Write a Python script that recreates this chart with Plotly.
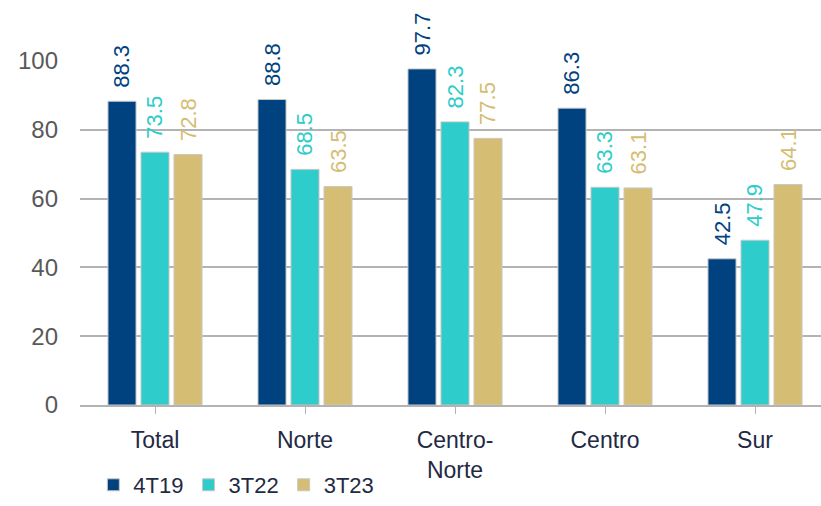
import plotly.graph_objects as go

# Regional values by period
regions = ["Total", "Norte", "Centro-<br>Norte", "Centro", "Sur"]
v_4t19 = [88.3, 88.8, 97.7, 86.3, 42.5]
v_3t22 = [73.5, 68.5, 82.3, 63.3, 47.9]
v_3t23 = [72.8, 63.5, 77.5, 63.1, 64.1]
y_ticks = [0, 20, 40, 60, 80, 100]

series = [
    ("4T19", v_4t19, "#00427F"),
    ("3T22", v_3t22, "#2ECCCA"),
    ("3T23", v_3t23, "#D5BD73"),
]

BARGAP = 0.34
GROUPGAP = 0.15
slot = (1 - BARGAP) / len(series)

fig = go.Figure()
annotations = []
for k, (name, vals, col) in enumerate(series):
    fig.add_trace(go.Bar(
        x=list(range(len(regions))),
        y=vals,
        name=name,
        marker=dict(color=col, line=dict(color="#c8c8c8", width=1)),
    ))
    # value labels sit above each bar, rotated, in the bar's colour
    offset = (k - (len(series) - 1) / 2) * slot
    for i, v in enumerate(vals):
        annotations.append(dict(
            x=i + offset, y=v, xref="x", yref="y",
            text=f"{v:.1f}", showarrow=False, textangle=-90,
            xanchor="center", yanchor="bottom", yshift=11,
            font=dict(family="Liberation Sans, Arial", size=22, color=col),
        ))

fig.update_layout(
    width=821, height=506,
    margin=dict(l=80, r=0, t=61, b=101),
    plot_bgcolor="white", paper_bgcolor="white",
    barmode="group", bargap=BARGAP, bargroupgap=GROUPGAP,
    font=dict(family="Liberation Sans, Arial", size=22, color="#595959"),
    annotations=annotations,
    showlegend=True,
    legend=dict(orientation="h", x=0.018, y=-0.233, xanchor="left", yanchor="middle",
                font=dict(size=22, color="#1F2A44"), traceorder="normal",
                itemwidth=30, tracegroupgap=0),
    xaxis=dict(
        tickmode="array", tickvals=list(range(len(regions))), ticktext=regions,
        range=[-0.5, -0.5 + 741 / 150],
        tickfont=dict(size=23, color="#1F2A44"),
        showline=True, linecolor="#b3b3b3", linewidth=1.5,
        ticks="outside", tickson="boundaries", ticklen=7, tickcolor="#b3b3b3",
        showgrid=False, zeroline=False, ticklabelstandoff=7,
    ),
    yaxis=dict(
        range=[0, 100], tickvals=y_ticks,
        tickfont=dict(size=24, color="#595959"),
        showgrid=True, gridcolor="#b3b3b3", gridwidth=1.5,
        zeroline=False, showline=False, ticklabelstandoff=21,
    ),
)

fig.write_html("out.html")
